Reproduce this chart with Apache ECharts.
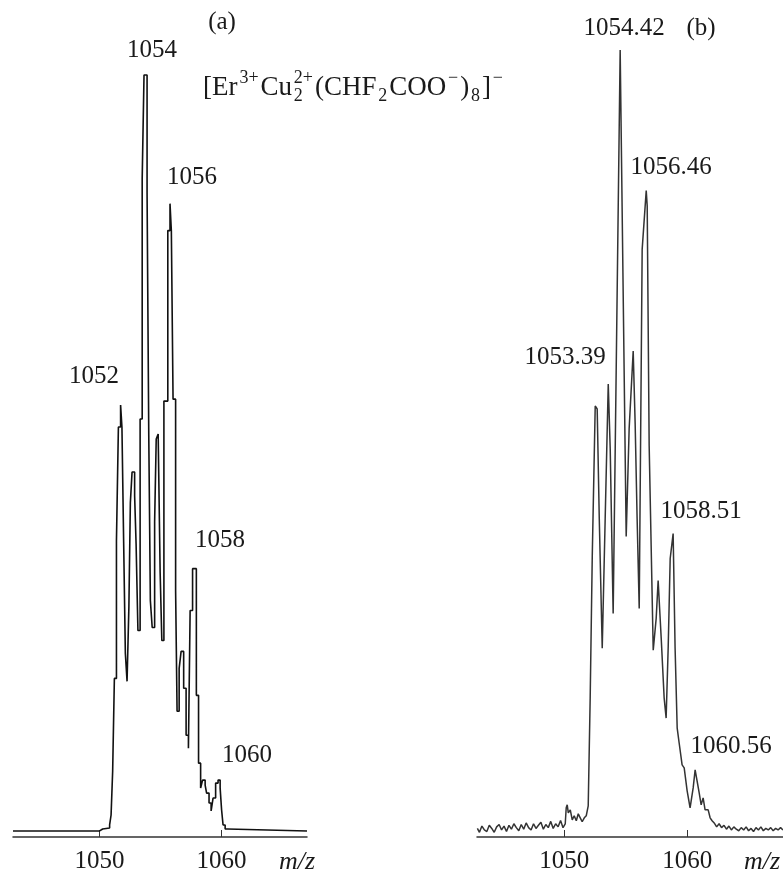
<!DOCTYPE html>
<html>
<head>
<meta charset="utf-8">
<script src="https://cdn.jsdelivr.net/npm/echarts@6/dist/echarts.min.js"></script>
<style>
  html, body { margin: 0; padding: 0; background: #fff; }
  #chart { width: 783px; height: 874px; }
</style>
</head>
<body>
<div id="chart"></div>
<script>
// (a) calculated isotope pattern, step levels: each level holds from its m/z to the next one
const calcMz = [1042.9, 1050.00, 1050.25, 1050.82, 1050.94, 1051.07, 1051.21, 1051.38, 1051.54, 1051.72,
  1051.83, 1051.97, 1052.11, 1052.25, 1052.40, 1052.52, 1052.66, 1052.87, 1052.99, 1053.14,
  1053.32, 1053.49, 1053.64, 1053.89, 1054.03, 1054.16, 1054.31, 1054.51, 1054.64, 1054.80,
  1054.96, 1055.10, 1055.27, 1055.59, 1055.77, 1055.88, 1056.02, 1056.23, 1056.35, 1056.52,
  1056.68, 1056.89, 1057.09, 1057.28, 1057.42, 1057.62, 1057.93, 1058.11, 1058.28, 1058.44,
  1058.65, 1058.77, 1058.97, 1059.14, 1059.30, 1059.51, 1059.71, 1059.88, 1060.00, 1060.12,
  1060.29, 1060.49, 1067.0];
const calcInt = [0, 0.26, 0.40, 0.79, 2.11, 7.92, 20.18, 38.39, 53.43, 56.33,
  53.43, 38.26, 23.48, 19.79, 29.68, 43.40, 47.49, 44.33, 37.99, 26.52,
  54.49, 86.28, 100, 84.43, 52.24, 30.47, 26.91, 40.90, 51.85, 52.51,
  34.30, 25.20, 56.86, 79.42, 82.98, 79.42, 57.12, 31.79, 15.83, 21.50,
  23.75, 18.87, 12.66, 10.95, 29.16, 34.70, 17.94, 8.97, 5.67, 6.73,
  6.07, 5.01, 3.69, 2.64, 4.35, 6.33, 6.73, 5.67, 2.77, 0.79,
  0.26, 0, 0];

// (b) measured spectrum
const expMz = [1042.93, 1043.1, 1043.3, 1043.5, 1043.7, 1043.9, 1044.1, 1044.3, 1044.5, 1044.7,
  1044.9, 1045.1, 1045.3, 1045.5, 1045.7, 1045.9, 1046.1, 1046.3, 1046.5, 1046.7,
  1046.9, 1047.1, 1047.3, 1047.5, 1047.7, 1047.9, 1048.1, 1048.3, 1048.5, 1048.7,
  1048.9, 1049.1, 1049.3, 1049.5, 1049.7, 1049.9,
  1050.08, 1050.16, 1050.24, 1050.33, 1050.49, 1050.65, 1050.81, 1050.98, 1051.14, 1051.30,
  1051.46, 1051.63, 1051.79, 1051.95, 1052.11, 1052.28, 1052.52, 1052.68, 1052.85, 1053.09,
  1053.33, 1053.58, 1053.74, 1053.98, 1054.55, 1055.04, 1055.28, 1055.61, 1055.77, 1055.93,
  1056.10, 1056.34, 1056.67, 1056.75, 1056.91, 1057.24, 1057.48, 1057.64, 1057.89, 1058.13,
  1058.29, 1058.46, 1058.62, 1058.86, 1059.02, 1059.19, 1059.35, 1059.51, 1059.59, 1059.76,
  1060.00, 1060.24, 1060.49, 1060.65, 1060.81, 1060.98, 1061.14, 1061.30, 1061.46, 1061.71,
  1061.87, 1062.03,
  1062.2, 1062.4, 1062.6, 1062.8, 1063.0, 1063.2, 1063.4, 1063.6, 1063.8, 1064.0,
  1064.2, 1064.4, 1064.6, 1064.8, 1065.0, 1065.2, 1065.4, 1065.6, 1065.8, 1066.0,
  1066.2, 1066.4, 1066.6, 1066.8, 1067.0, 1067.2, 1067.4, 1067.6, 1067.8];
const expInt = [0.3, -0.2, 0.6, 0.1, -0.1, 0.7, 0.3, -0.2, 0.5, 0.8,
  0.1, 0.6, -0.1, 0.7, 0.2, 0.9, 0.4, 0.0, 0.8, 0.2,
  1.0, 0.4, 0.1, 0.9, 0.3, 0.7, 1.1, 0.2, 0.8, 0.4,
  1.2, 0.3, 0.9, 0.5, 1.3, 0.4,
  0.89, 2.94, 3.32, 2.30, 2.68, 1.40, 1.92, 1.28, 2.17, 1.66,
  1.15, 1.66, 1.92, 3.19, 16.99, 35.25, 54.41, 54.02, 39.97, 23.37,
  39.97, 57.22, 48.91, 27.84, 100, 37.68, 51.47, 61.43, 52.11, 39.97,
  28.48, 74.46, 81.99, 80.0, 49.3, 23.12, 27.20, 32.06, 24.65, 16.99,
  14.43, 23.63, 34.87, 38.06, 23.37, 13.15, 11.24, 11.49, 8.43, 8.05,
  5.11, 2.94, 5.49, 7.79, 7.79, 4.85, 3.32, 4.21, 2.68, 2.68,
  1.66, 1.28,
  1.0, 0.5, 0.9, 0.4, 0.7, 0.2, 0.6, 0.1, 0.5, 0.2,
  0.0, 0.4, 0.1, 0.5, 0.0, 0.3, -0.1, 0.4, 0.1, 0.5,
  0.0, 0.3, 0.1, 0.4, 0.0, 0.3, 0.1, 0.4, 0.1];

const tickValues = [1050, 1060];
const formulaParts = [['[Er', 'n'], ['3+', 'sup'], ['Cu', 'n'], [['2+', '2'], 'stack'], ['(CHF', 'n'],
  ['2', 'sub'], ['COO', 'n'], ['\u2212', 'sup'], [')', 'n'], ['8', 'sub'], [']', 'n'], ['\u2212', 'sup']];

const serif = "'Liberation Serif', 'Times New Roman', serif";
const ink = '#1a1a1a';
const ctx = document.createElement('canvas').getContext('2d');
function textWidth(t, size) {
  ctx.font = size + 'px ' + serif;
  return ctx.measureText(t).width;
}

function txt(text, x, y, opts) {
  return {
    type: 'text', x: x, y: y, silent: true,
    style: Object.assign({
      text: text, fill: ink, fontFamily: serif, fontSize: 25,
      align: 'center', verticalAlign: 'middle'
    }, opts || {})
  };
}

// formula laid out piece by piece, stretched to the span it has in the figure
function formula(x0, y0, span) {
  const big = 27, small = 18;
  const widths = formulaParts.map(([t, kind]) => {
    if (kind === 'n') return textWidth(t, big);
    if (kind === 'stack') return Math.max(textWidth(t[0], small), textWidth(t[1], small));
    return textWidth(t, small);
  });
  const natural = widths.reduce((a, b) => a + b, 0);
  const gap = Math.max(0, (span - natural) / (formulaParts.length - 1));
  const els = [];
  let x = x0;
  formulaParts.forEach(([t, kind], i) => {
    if (kind === 'n') {
      els.push(txt(t, x, y0, { align: 'left', fontSize: big }));
    } else if (kind === 'sup') {
      els.push(txt(t, x, y0 - 10, { align: 'left', fontSize: small }));
    } else if (kind === 'sub') {
      els.push(txt(t, x, y0 + 8, { align: 'left', fontSize: small }));
    } else {
      els.push(txt(t[0], x, y0 - 10, { align: 'left', fontSize: small }));
      els.push(txt(t[1], x, y0 + 8, { align: 'left', fontSize: small }));
    }
    x += widths[i] + gap;
  });
  return els;
}

function xAxisOf(gridIndex, min, max) {
  return {
    gridIndex: gridIndex, type: 'value', min: min, max: max,
    axisLine: { onZero: false, lineStyle: { color: '#333', width: 1.5 } },
    axisTick: { inside: true, length: 7, customValues: tickValues, lineStyle: { color: '#333', width: 1 } },
    axisLabel: {
      customValues: tickValues, formatter: v => String(v),
      fontFamily: serif, fontSize: 25, color: ink, margin: 12
    },
    splitLine: { show: false }
  };
}

const chart = echarts.init(document.getElementById('chart'));
chart.setOption({
  animation: false,
  backgroundColor: '#fff',
  grid: [
    { left: 13, width: 294, top: 75, bottom: 35 },
    { left: 477, right: 0, top: 50, bottom: 35 }
  ],
  xAxis: [xAxisOf(0, 1042.9, 1067), xAxisOf(1, 1042.9, 1067.8)],
  yAxis: [
    { gridIndex: 0, type: 'value', min: -0.8, max: 100, show: false },
    { gridIndex: 1, type: 'value', min: -0.8, max: 100, show: false }
  ],
  series: [
    {
      type: 'line', xAxisIndex: 0, yAxisIndex: 0, step: 'end', showSymbol: false, clip: false,
      lineStyle: { color: '#111', width: 1.6 },
      data: calcMz.map((m, i) => [m, calcInt[i]])
    },
    {
      type: 'line', xAxisIndex: 1, yAxisIndex: 1, showSymbol: false, clip: false,
      lineStyle: { color: '#333', width: 1.5 },
      data: expMz.map((m, i) => [m, expInt[i]])
    }
  ],
  graphic: [
    txt('(a)', 222, 22),
    txt('1054', 152, 50),
    txt('1056', 192, 177),
    txt('1052', 94, 376),
    txt('1058', 220, 540),
    txt('1060', 247, 755),
    txt('m/z', 297, 862, { fontStyle: 'italic', fontSize: 26 }),
    txt('1054.42', 624, 28),
    txt('(b)', 701, 28),
    txt('1053.39', 565, 357),
    txt('1056.46', 671, 167),
    txt('1058.51', 701, 511),
    txt('1060.56', 731, 746),
    txt('m/z', 762, 862, { fontStyle: 'italic', fontSize: 26 })
  ].concat(formula(203, 88, 300))
});
</script>
</body>
</html>
